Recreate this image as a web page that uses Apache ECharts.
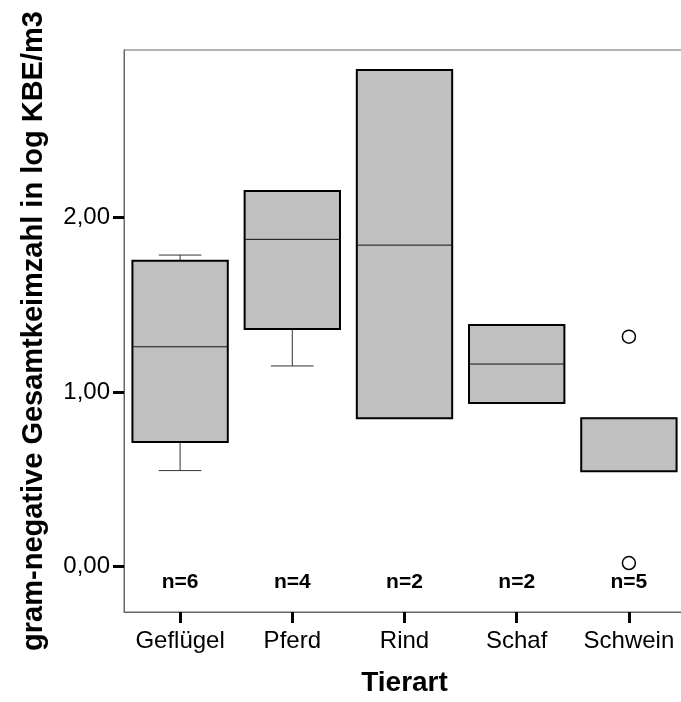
<!DOCTYPE html>
<html>
<head>
<meta charset="utf-8">
<script src="https://cdn.jsdelivr.net/npm/echarts@6/dist/echarts.min.js"></script>
<style>
  html, body { margin: 0; padding: 0; background: #fff; }
  #chart { width: 681px; height: 702px; }
</style>
</head>
<body>
<div id="chart"></div>
<script>
// Tierart categories and box statistics (log KBE/m3)
const categories = ['Geflügel', 'Pferd', 'Rind', 'Schaf', 'Schwein'];
const whiskerLow = [0.55, 1.15, null, null, null];
const q1 = [0.714, 1.362, 0.85, 0.938, 0.546];
const median = [1.26, 1.876, 1.843, 1.161, 0.85];
const q3 = [1.753, 2.153, 2.847, 1.385, 0.85];
const whiskerHigh = [1.786, null, null, null, null];
const nCounts = [6, 4, 2, 2, 5];
// outliers (circles)
const outlierCat = ['Schwein', 'Schwein'];
const outlierVal = [1.318, 0.02];
// y ticks
const yTicks = [0, 1, 2];

const yMin = -0.261, yMax = 2.962;
const font = '"Liberation Sans", Arial, sans-serif';

const chart = echarts.init(document.getElementById('chart'));

function renderBox(params, api) {
  const i = api.value(0);
  const band = api.size([1, 0])[0];
  const boxW = band * 0.85;
  const capW = band * 0.38;
  const cx = api.coord([i, q1[i]])[0];
  const yQ1 = api.coord([i, q1[i]])[1];
  const yQ3 = api.coord([i, q3[i]])[1];
  const yMed = api.coord([i, median[i]])[1];
  const children = [];
  const whisk = { stroke: '#333', lineWidth: 1 };
  if (whiskerLow[i] != null) {
    const yl = api.coord([i, whiskerLow[i]])[1];
    children.push({ type: 'line', shape: { x1: cx, y1: yQ1, x2: cx, y2: yl }, style: whisk });
    children.push({ type: 'line', shape: { x1: cx - capW / 2, y1: yl, x2: cx + capW / 2, y2: yl }, style: whisk });
  }
  if (whiskerHigh[i] != null) {
    const yh = api.coord([i, whiskerHigh[i]])[1];
    children.push({ type: 'line', shape: { x1: cx, y1: yQ3, x2: cx, y2: yh }, style: whisk });
    children.push({ type: 'line', shape: { x1: cx - capW / 2, y1: yh, x2: cx + capW / 2, y2: yh }, style: whisk });
  }
  children.push({
    type: 'rect',
    shape: { x: cx - boxW / 2, y: yQ3, width: boxW, height: yQ1 - yQ3 },
    style: { fill: '#c0c0c0', stroke: '#000', lineWidth: 2 }
  });
  children.push({
    type: 'line',
    shape: { x1: cx - boxW / 2, y1: yMed, x2: cx + boxW / 2, y2: yMed },
    style: { stroke: '#111', lineWidth: 1 }
  });
  const yBottom = api.coord([i, yMin])[1];
  children.push({
    type: 'text',
    style: {
      text: 'n=' + nCounts[i],
      x: cx, y: yBottom - 30,
      align: 'center', verticalAlign: 'middle',
      font: 'bold 21px ' + font,
      fill: '#000'
    }
  });
  return { type: 'group', children: children };
}

const option = {
  animation: false,
  backgroundColor: '#fff',
  grid: {
    left: 124, top: 50, width: 561, height: 562,
    outerBoundsMode: 'none',
    containLabel: false,
    show: true, borderColor: '#666', borderWidth: 1, backgroundColor: 'transparent'
  },
  xAxis: {
    type: 'category',
    data: categories,
    name: 'Tierart',
    nameLocation: 'middle',
    nameGap: 57,
    nameTextStyle: { fontFamily: font, fontSize: 28, fontWeight: 'bold', color: '#000' },
    axisLine: { show: true, onZero: false, lineStyle: { color: '#666', width: 1 } },
    axisTick: { show: true, alignWithLabel: true, interval: 0, length: 11, lineStyle: { color: '#000', width: 3 } },
    axisLabel: { show: true, interval: 0, fontFamily: font, fontSize: 24, color: '#000', margin: 17 },
    splitLine: { show: false }
  },
  yAxis: {
    type: 'value',
    min: yMin,
    max: yMax,
    name: 'gram-negative Gesamtkeimzahl in log KBE/m3',
    nameLocation: 'middle',
    nameRotate: 90,
    nameGap: 76,
    nameTextStyle: { fontFamily: font, fontSize: 29, fontWeight: 'bold', color: '#000' },
    axisLine: { show: true, onZero: false, lineStyle: { color: '#666', width: 1 } },
    axisTick: { show: true, customValues: yTicks, length: 11, lineStyle: { color: '#000', width: 3 } },
    axisLabel: {
      customValues: yTicks,
      fontFamily: font, fontSize: 24, color: '#000', margin: 14,
      formatter: function (v) { return v.toFixed(2).replace('.', ','); }
    },
    splitLine: { show: false }
  },
  series: [
    {
      type: 'custom',
      renderItem: renderBox,
      data: categories.map(function (c, i) { return [i, q1[i], q3[i]]; }),
      encode: { x: 0, y: [1, 2] },
      z: 2
    },
    {
      type: 'scatter',
      data: outlierCat.map(function (c, k) { return [c, outlierVal[k]]; }),
      symbol: 'circle',
      symbolSize: 13,
      itemStyle: { color: '#fff', borderColor: '#000', borderWidth: 1.5, opacity: 1 },
      z: 3
    }
  ]
};

chart.setOption(option);
</script>
</body>
</html>
